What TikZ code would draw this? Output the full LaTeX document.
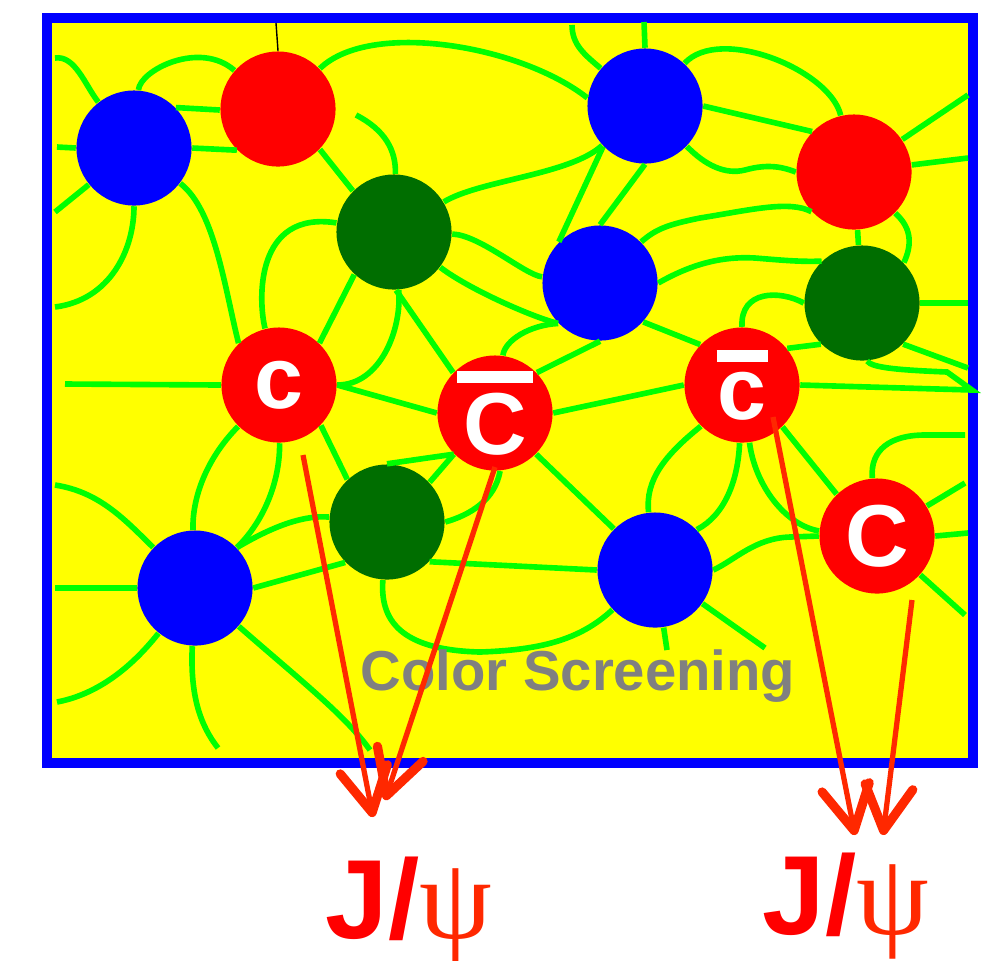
\documentclass[tikz,border=0pt]{standalone}
\usepackage{fontspec}
\setmainfont{Liberation Sans}
\newfontfamily\psifont{Liberation Serif}
\usetikzlibrary{arrows.meta}
\definecolor{plasma}{RGB}{255,255,0}
\definecolor{gluegreen}{RGB}{0,255,0}
\definecolor{darkglue}{RGB}{0,110,0}
\definecolor{decayred}{RGB}{255,40,0}
\newcommand\antiq[2]{\shortstack{\rule{#1}{0.12cm}\\#2}}

\begin{document}
\begin{tikzpicture}[x=0.01cm, y=-0.01cm,
    hadron/.style={circle, inner sep=0pt, minimum size=1.15cm},
    rblob/.style={hadron, fill=red, text=white,
                  font=\fontsize{25}{25}\selectfont\bfseries},
    bblob/.style={hadron, fill=blue},
    gblob/.style={hadron, fill=darkglue},
    gluon/.style={draw=gluegreen, line width=1.6pt},
    decay/.style={draw=decayred, line width=1.5pt,
                  -{Straight Barb[length=4.4mm,width=4.8mm,line width=2.6pt,round]}},
    psilab/.style={anchor=base west, text=red, inner sep=0pt,
                   font=\fontsize{32}{32}\selectfont\bfseries}]
  \useasboundingbox[fill=white] (0,0) rectangle (989,960);
  \draw[draw=blue, line width=2.85pt, fill=plasma] (47,18) rectangle (973,763);

  \node[bblob] (b1) at (134,148) {};
  \node[rblob] (r1) at (278,109) {};
  \node[gblob] (g1) at (394,232) {};
  \node[bblob] (bt) at (645,106) {};
  \node[rblob] (rt) at (854,172) {};
  \node[bblob] (bm) at (600,283) {};
  \node[gblob] (gr) at (862,303) {};
  \node[rblob] (qc) at (279,385) {c};
  \node[rblob] (qa) at (495,413) {\antiq{0.75cm}{C}};
  \node[rblob] (qb) at (742,385) {\antiq{0.51cm}{c}};
  \node[gblob] (gl) at (387,522) {};
  \node[bblob] (bl) at (195,588) {};
  \node[bblob] (bn) at (655,570) {};
  \node[rblob] (qC) at (877,536) {C};

  \draw (276,23) -- (r1.north);

  \draw[gluon] (55,58) .. controls (75,55) and (85,85) .. (b1);
  \draw[gluon] (b1) .. controls (140,70) and (200,40) .. (r1);
  \draw[gluon] (b1.44) -- (r1.181);
  \draw[gluon] (57,147) -- (b1.west);
  \draw[gluon] (b1.east) -- (r1.225);
  \draw[gluon] (b1) -- (55,212);
  \draw[gluon] (b1) .. controls (134,250) and (110,300) .. (55,307);
  \draw[gluon] (b1) .. controls (215,210) and (225,290) .. (qc.134);
  \draw[gluon] (r1) .. controls (370,20) and (520,45) .. (bt.172);
  \draw[gluon] (r1.-44) -- (g1.135);
  \draw[gluon] (356,115) .. controls (385,130) and (396,150) .. (g1);
  \draw[gluon] (g1) .. controls (480,180) and (570,175) .. (bt);
  \draw[gluon] (g1) .. controls (255,210) and (258,300) .. (qc);
  \draw[gluon] (g1) .. controls (480,235) and (525,275) .. (bm);
  \draw[gluon] (g1) .. controls (470,290) and (535,318) .. (bm.224);
  \draw[gluon] (g1.-133) -- (qc.46);
  \draw[gluon] (g1) .. controls (402,330) and (380,385) .. (qc);
  \draw[gluon] (g1.-88) -- (qa.136);
  \draw[gluon] (65,384) -- (qc.west);
  \draw[gluon] (qc.east) -- (qa.west);

  \draw[gluon] (572,25) .. controls (572,45) and (585,55) .. (bt);
  \draw[gluon] (644,22) -- (bt.north);
  \draw[gluon] (bt) .. controls (720,25) and (830,70) .. (rt);
  \draw[gluon] (bt.0) -- (rt.136);
  \draw[gluon] (bt.-44) .. controls (705,165) and (725,175) .. (745,170)
                        .. controls (770,163) and (785,168) .. (rt.west);
  \draw[gluon] (rt) -- (968,95);
  \draw[gluon] (rt) -- (968,158);
  \draw[gluon] (bt.224) -- (bm.135);
  \draw[gluon] (bt.south) -- (bm.north);
  \draw[gluon] (bm.45) .. controls (655,230) and (665,225) .. (700,218)
                      .. controls (750,210) and (790,200) .. (rt.223);
  \draw[gluon] (rt) -- (gr);
  \draw[gluon] (rt.-45) .. controls (912,228) and (912,245) .. (gr.44);
  \draw[gluon] (bm.east) .. controls (690,265) and (720,256) .. (755,258)
                         .. controls (780,260) and (800,262) .. (gr.134);
  \draw[gluon] (gr.west) .. controls (780,290) and (740,290) .. (qb.north);
  \draw[gluon] (gr.east) -- (968,303);
  \draw[gluon] (gr.225) -- (qb.39);
  \draw[gluon] (gr.-45) -- (968,368);
  \draw[gluon] (gr.-85) .. controls (872,368) and (900,370) .. (947,372)
                        -- (972,390) -- (qb.east);
  \draw[gluon] (qa) .. controls (505,340) and (530,325) .. (bm.224);
  \draw[gluon] (bm.south) -- (qa.44);
  \draw[gluon] (bm.-42) -- (qb.136);
  \draw[gluon] (qa.east) -- (qb.west);

  \draw[gluon] (qc) .. controls (205,460) and (192,500) .. (bl);
  \draw[gluon] (qc) .. controls (280,480) and (265,520) .. (bl.44);
  \draw[gluon] (qc.-44) -- (gl.133);
  \draw[gluon] (55,485) .. controls (100,492) and (125,520) .. (bl);
  \draw[gluon] (55,588) -- (bl.west);
  \draw[gluon] (bl) .. controls (145,650) and (110,692) .. (57,702);
  \draw[gluon] (bl) .. controls (190,695) and (200,725) .. (218,748);
  \draw[gluon] (bl) .. controls (300,680) and (345,715) .. (370,750);
  \draw[gluon] (bl.44) .. controls (275,525) and (305,515) .. (gl);
  \draw[gluon] (bl.east) -- (gl.224);
  \draw[gluon] (gl) .. controls (380,620) and (400,650) .. (480,652)
                    .. controls (540,650) and (580,640) .. (bn);
  \draw[gluon] (gl.east) .. controls (470,515) and (495,500) .. (qa.-85);
  \draw[gluon] (qa.-45) -- (bn.135);
  \draw[gluon] (qa.225) -- (gl.43);
  \draw[gluon] (qa.225) -- (gl.north);
  \draw[gluon] (gl.-43) -- (bn.west);
  \draw[gluon] (qb.225) .. controls (665,455) and (645,480) .. (bn);
  \draw[gluon] (qb) .. controls (738,480) and (725,515) .. (bn.44);
  \draw[gluon] (qb) .. controls (755,485) and (785,525) .. (qC.175);
  \draw[gluon] (bn.east) .. controls (735,560) and (755,538) .. (790,537) -- (qC.west);
  \draw[gluon] (qb.-46) -- (qC.134);
  \draw[gluon] (qC) .. controls (870,450) and (890,435) .. (925,435) -- (965,435);
  \draw[gluon] (qC) -- (965,483);
  \draw[gluon] (qC.east) -- (968,533);
  \draw[gluon] (qC) -- (965,615);
  \draw[gluon] (bn) -- (667,650);
  \draw[gluon] (bn) -- (765,648);

  \node[anchor=base west, inner sep=0pt, text=gray,
        font=\fontsize{16}{16}\selectfont\bfseries] (screen) at (360,690) {Color Screening};

  \coordinate (s1) at (303,455);
  \coordinate (t1) at (373,817);
  \coordinate (s2) at (495,467);
  \coordinate (t2) at (385,800);
  \coordinate (s3) at (773,417);
  \coordinate (t3) at (855,835);
  \coordinate (s4) at (912,600);
  \coordinate (t4) at (883,835);
  \draw[decay] (s1) -- (t1);
  \draw[decay] (s2) -- (t2);
  \draw[decay] (s3) -- (t3);
  \draw[decay] (s4) -- (t4);

  \node[psilab] (jl) at (325,938) {J/{\color{decayred}\psifont\mdseries\fontsize{33}{33}\selectfont ψ}};
  \node[psilab] (jr) at (762,934) {J/{\color{decayred}\psifont\mdseries\fontsize{33}{33}\selectfont ψ}};
\end{tikzpicture}
\end{document}
